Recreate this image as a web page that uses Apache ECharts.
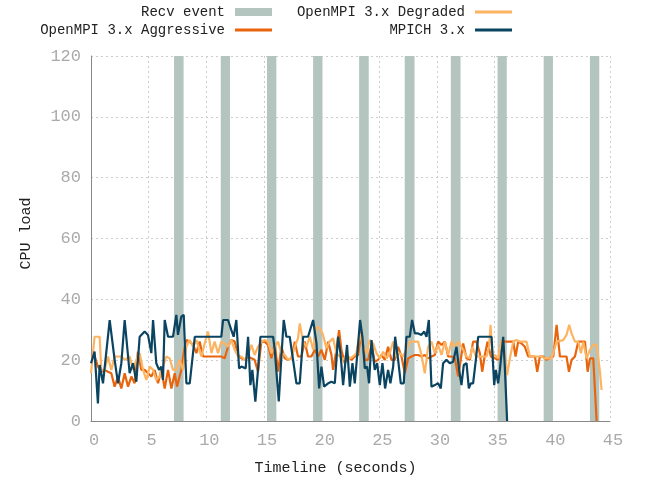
<!DOCTYPE html>
<html>
<head>
<meta charset="utf-8">
<script src="https://cdn.jsdelivr.net/npm/echarts@6/dist/echarts.min.js"></script>
<style>
  html, body { margin: 0; padding: 0; background: #fff; }
  #chart { width: 654px; height: 481px; }
</style>
</head>
<body>
<div id="chart"></div>
<script>
// receive events: start / end time (s)
const recvStart = [7.2, 11.25, 15.26, 19.26, 23.25, 27.2, 31.2, 35.25, 39.25, 43.26];
const recvEnd   = [8.03, 12.05, 16.07, 20.07, 24.08, 28.05, 32.04, 36.05, 40.05, 44.07];

// [time (s), CPU load]
const aggressive = [[0,21.7],[0.29,21.7],[0.60,17.9],[0.89,16.2],[1.18,16.8],[1.47,16.2],[1.76,15.7],[2.05,11.3],[2.34,14.6],[2.63,10.7],[2.92,15.7],[3.21,11.3],[3.50,14.6],[3.78,12.4],[4.07,22.8],[4.36,16.8],[4.65,16.8],[4.94,15.7],[5.23,14.6],[5.52,16.8],[5.81,12.4],[6.10,16.8],[6.39,10.7],[6.68,16.8],[6.97,10.7],[7.26,15.7],[7.46,11.3],[7.83,16.8],[8.12,24.4],[8.27,26.6],[8.56,26.1],[8.85,25.0],[9.14,22.3],[9.42,26.1],[9.71,21.2],[10.00,21.2],[11.30,21.2],[11.59,20.6],[11.88,24.4],[12.17,26.6],[12.46,26.1],[12.75,21.7],[13.04,20.6],[13.33,20.1],[13.62,21.2],[13.91,20.6],[14.19,20.1],[14.48,16.2],[14.77,26.1],[15.06,26.1],[15.35,25.0],[15.64,20.6],[15.93,25.5],[16.22,16.2],[16.51,24.4],[16.80,20.6],[17.09,20.1],[17.38,20.6],[17.67,26.1],[17.95,21.2],[18.24,21.2],[18.53,26.1],[18.82,21.2],[19.11,21.2],[19.40,23.4],[19.69,21.2],[19.98,23.4],[20.27,20.1],[20.56,26.1],[20.85,21.7],[20.99,16.8],[21.28,23.4],[21.51,29.9],[21.71,23.4],[22.00,19.0],[22.29,21.2],[22.58,20.1],[22.87,21.2],[23.16,21.7],[23.45,29.4],[23.74,20.1],[24.03,20.1],[24.32,25.0],[24.60,19.5],[24.89,20.1],[25.18,21.7],[25.47,20.1],[25.76,24.4],[26.05,20.1],[26.34,20.1],[26.63,24.4],[26.92,21.2],[27.21,15.7],[27.50,20.6],[27.79,21.2],[28.08,21.7],[28.36,21.7],[28.65,21.2],[28.94,21.7],[29.23,20.6],[29.52,21.2],[29.81,21.7],[30.10,26.1],[30.39,25.0],[30.68,26.1],[30.97,21.2],[31.26,21.2],[31.55,20.6],[31.84,14.6],[32.27,25.5],[32.56,20.6],[32.85,20.1],[33.13,26.1],[33.42,26.1],[33.71,22.3],[33.92,16.2],[34.15,21.7],[34.38,26.1],[34.67,21.2],[35.01,20.6],[35.30,20.1],[35.59,26.1],[36.32,26.1],[36.61,26.1],[36.81,21.2],[37.04,26.1],[37.33,25.5],[37.62,24.4],[37.91,21.2],[38.49,21.2],[38.69,16.2],[38.92,21.2],[39.21,21.2],[39.50,20.1],[40.08,21.2],[40.37,31.6],[40.66,21.2],[41.23,21.2],[41.44,16.2],[41.67,20.1],[41.96,21.2],[42.25,26.1],[42.83,26.1],[43.06,16.2],[43.26,20.6],[43.55,20.6],[43.84,0]];

const degraded = [[0,15.7],[0.31,27.7],[0.75,27.7],[0.89,16.8],[1.18,16.8],[1.47,21.2],[1.76,16.8],[2.05,21.2],[2.34,21.2],[2.63,21.2],[2.92,20.1],[3.35,21.2],[3.64,16.8],[3.93,20.1],[4.22,22.3],[4.51,16.8],[4.80,13.5],[5.09,17.9],[5.38,16.8],[5.66,13.5],[5.95,14.6],[6.24,17.9],[6.53,21.2],[6.82,20.6],[7.11,16.8],[7.40,16.8],[7.69,20.1],[7.98,16.8],[8.27,24.4],[8.56,26.6],[8.85,24.4],[9.14,26.6],[9.57,21.2],[9.86,25.5],[10.15,29.4],[10.44,22.3],[10.72,26.1],[11.01,22.3],[11.30,26.1],[11.59,25.5],[11.88,24.4],[12.17,26.6],[12.46,23.4],[12.75,21.2],[13.04,21.2],[13.33,20.1],[13.62,21.7],[13.91,25.0],[14.19,21.7],[14.48,24.4],[14.77,26.1],[15.06,26.6],[15.35,26.1],[15.64,22.3],[15.93,24.4],[16.22,26.1],[16.51,22.3],[16.80,21.7],[17.09,20.1],[17.38,20.6],[17.67,24.4],[17.95,27.2],[18.10,32.1],[18.39,26.1],[18.68,24.4],[18.97,27.7],[19.26,23.4],[19.55,31.0],[19.83,30.5],[20.12,28.3],[20.41,23.9],[20.70,26.1],[20.99,27.2],[21.28,22.3],[21.57,21.2],[21.86,20.1],[22.15,21.7],[22.44,20.6],[22.72,21.2],[23.01,22.3],[23.30,28.8],[23.59,24.4],[23.88,22.3],[24.17,26.6],[24.46,25.5],[24.75,22.3],[25.04,20.6],[25.33,22.8],[25.62,20.6],[25.91,22.3],[26.20,26.1],[26.48,21.2],[26.77,22.3],[27.06,21.2],[27.35,23.4],[27.64,26.1],[28.36,26.1],[28.65,21.7],[28.94,15.7],[29.23,24.4],[29.52,26.1],[29.81,22.3],[30.10,25.0],[30.39,21.7],[30.68,26.1],[30.97,21.7],[31.26,26.1],[31.55,24.4],[31.84,26.1],[32.27,23.4],[32.56,21.2],[32.85,20.6],[33.08,24.4],[33.37,21.2],[34.29,21.2],[34.52,24.4],[34.64,31.6],[34.81,21.7],[35.01,21.7],[35.30,20.6],[35.59,26.6],[35.88,22.3],[36.08,15.1],[36.32,20.6],[36.61,26.1],[36.89,26.6],[37.18,26.1],[37.76,26.1],[38.05,21.2],[39.06,21.2],[39.35,20.6],[39.93,20.6],[40.16,23.4],[40.37,26.1],[40.94,26.6],[41.23,28.3],[41.46,31.6],[41.67,28.8],[41.96,26.1],[42.25,26.1],[42.48,22.3],[42.68,26.1],[42.97,20.6],[43.26,23.4],[43.55,25.0],[43.84,25.0],[44.13,16.2],[44.27,10.2]];

const mpich = [[0,19.0],[0.31,22.8],[0.60,5.8],[0.75,18.4],[1.04,12.4],[1.62,33.2],[2.05,20.1],[2.34,12.4],[2.63,19.0],[2.92,33.2],[3.35,15.7],[3.64,19.0],[3.93,12.9],[4.22,27.7],[4.65,29.4],[4.94,28.3],[5.23,22.3],[5.38,33.2],[5.66,19.0],[5.90,16.8],[6.10,17.9],[6.24,13.5],[6.39,33.2],[6.68,27.7],[7.11,27.7],[7.40,34.9],[7.54,28.3],[7.83,34.3],[8.04,34.9],[8.27,12.4],[8.56,12.4],[9.00,27.7],[11.30,27.7],[11.45,33.2],[11.88,33.2],[12.17,29.9],[12.37,27.7],[12.60,33.2],[12.84,17.3],[13.04,17.9],[13.41,17.3],[13.62,27.7],[13.82,11.8],[13.99,16.8],[14.25,6.4],[14.48,16.8],[14.69,27.7],[15.79,27.7],[15.93,23.4],[16.28,6.4],[16.51,21.2],[16.71,33.2],[16.94,27.7],[17.23,27.7],[17.52,20.1],[17.81,12.4],[18.10,12.4],[18.39,27.7],[18.82,27.7],[19.26,33.2],[19.55,25.5],[19.78,10.7],[19.98,17.9],[20.21,11.3],[20.56,12.4],[20.85,12.9],[21.14,12.4],[21.42,27.7],[21.63,22.3],[21.86,11.8],[22.20,25.0],[22.44,11.3],[22.67,19.0],[22.87,12.4],[23.07,21.2],[23.33,33.2],[23.53,27.7],[23.74,17.3],[23.94,17.9],[24.11,12.4],[24.32,26.6],[24.60,16.8],[24.81,19.0],[25.04,11.8],[25.27,19.0],[25.50,10.7],[25.76,16.8],[25.96,12.4],[26.20,17.9],[26.37,27.7],[26.63,20.1],[26.86,12.4],[27.12,12.4],[27.35,27.7],[27.64,27.7],[27.84,33.2],[28.08,28.8],[28.36,28.8],[28.65,28.3],[28.89,29.4],[29.09,27.7],[29.29,33.2],[29.52,11.3],[29.81,11.8],[30.10,12.4],[30.33,10.7],[30.53,19.0],[30.82,20.1],[31.11,19.0],[31.40,19.5],[31.69,24.4],[31.92,16.8],[32.12,11.8],[32.32,18.4],[32.56,19.0],[32.76,10.7],[32.93,12.4],[33.13,12.4],[33.37,20.1],[33.57,27.7],[34.73,27.7],[34.96,11.8],[35.10,16.8],[35.30,12.4],[35.45,16.8],[35.74,27.7],[35.88,17.9],[36.08,0]];

const FONT = 'Liberation Mono';
const C_RECV = '#b4c4bf';
const C_AGG = '#e8650d';
const C_DEG = '#fdb462';
const C_MPICH = '#0a4461';

const chart = echarts.init(document.getElementById('chart'));

const legendText = { fontFamily: FONT, fontSize: 14, color: '#222', padding: [0, 5, 0, 0] };
const legendBase = {
  orient: 'horizontal',
  align: 'right',
  itemWidth: 37,
  itemHeight: 3,
  padding: 0,
  selectedMode: false,
  textStyle: legendText,
};

const option = {
  animation: false,
  grid: { left: 91, right: 44, top: 56, bottom: 60 },
  legend: [
    Object.assign({}, legendBase, { data: [{ name: 'Recv event', icon: 'rect' }], right: 382, top: 5, itemHeight: 8 }),
    Object.assign({}, legendBase, { data: [{ name: 'OpenMPI 3.x Aggressive', icon: 'rect' }], right: 382, top: 23 }),
    Object.assign({}, legendBase, { data: [{ name: 'OpenMPI 3.x Degraded', icon: 'rect' }], right: 142, top: 5 }),
    Object.assign({}, legendBase, { data: [{ name: 'MPICH 3.x', icon: 'rect' }], right: 142, top: 23 }),
  ],
  xAxis: {
    type: 'value',
    min: 0,
    max: 45,
    interval: 5,
    name: 'Timeline (seconds)',
    nameLocation: 'middle',
    nameGap: 40,
    nameTextStyle: { fontFamily: FONT, fontSize: 15, color: '#222', padding: [0, 30, 0, 0] },
    axisLine: { lineStyle: { color: '#888', width: 1 } },
    axisTick: { show: false },
    axisLabel: { fontFamily: FONT, fontSize: 17, color: '#aaa', margin: 11, padding: [0, 0, 0, 6] },
    splitLine: { show: true, lineStyle: { color: '#cccccc', type: [2, 3], width: 1 } },
  },
  yAxis: {
    type: 'value',
    min: 0,
    max: 120,
    interval: 20,
    name: 'CPU load',
    nameLocation: 'middle',
    nameGap: 57,
    nameTextStyle: { fontFamily: FONT, fontSize: 15, color: '#222', padding: [0, 0, 0, 10] },
    axisLine: { show: true, lineStyle: { color: '#888', width: 1 } },
    axisTick: { show: false },
    axisLabel: { fontFamily: FONT, fontSize: 17, color: '#aaa', margin: 10 },
    splitLine: { show: true, lineStyle: { color: '#cccccc', type: [2, 3], width: 1 } },
  },
  series: [
    {
      name: 'Recv event',
      type: 'custom',
      itemStyle: { color: C_RECV },
      encode: { x: [0, 1] },
      data: recvStart.map((s, i) => [s, recvEnd[i]]),
      renderItem: (params, api) => {
        const p0 = api.coord([api.value(0), 120]);
        const p1 = api.coord([api.value(1), 0]);
        return {
          type: 'rect',
          shape: { x: p0[0], y: p0[1], width: p1[0] - p0[0], height: p1[1] - p0[1] },
          style: { fill: C_RECV },
        };
      },
      z: 1,
    },
    {
      name: 'OpenMPI 3.x Aggressive',
      type: 'line',
      data: aggressive,
      symbol: 'none',
      color: C_AGG,
      lineStyle: { color: C_AGG, width: 2.2 },
      z: 2,
    },
    {
      name: 'OpenMPI 3.x Degraded',
      type: 'line',
      data: degraded,
      symbol: 'none',
      color: C_DEG,
      lineStyle: { color: C_DEG, width: 2.2 },
      z: 3,
    },
    {
      name: 'MPICH 3.x',
      type: 'line',
      data: mpich,
      symbol: 'none',
      color: C_MPICH,
      lineStyle: { color: C_MPICH, width: 2.2 },
      z: 4,
    },
  ],
};

chart.setOption(option);
</script>
</body>
</html>
